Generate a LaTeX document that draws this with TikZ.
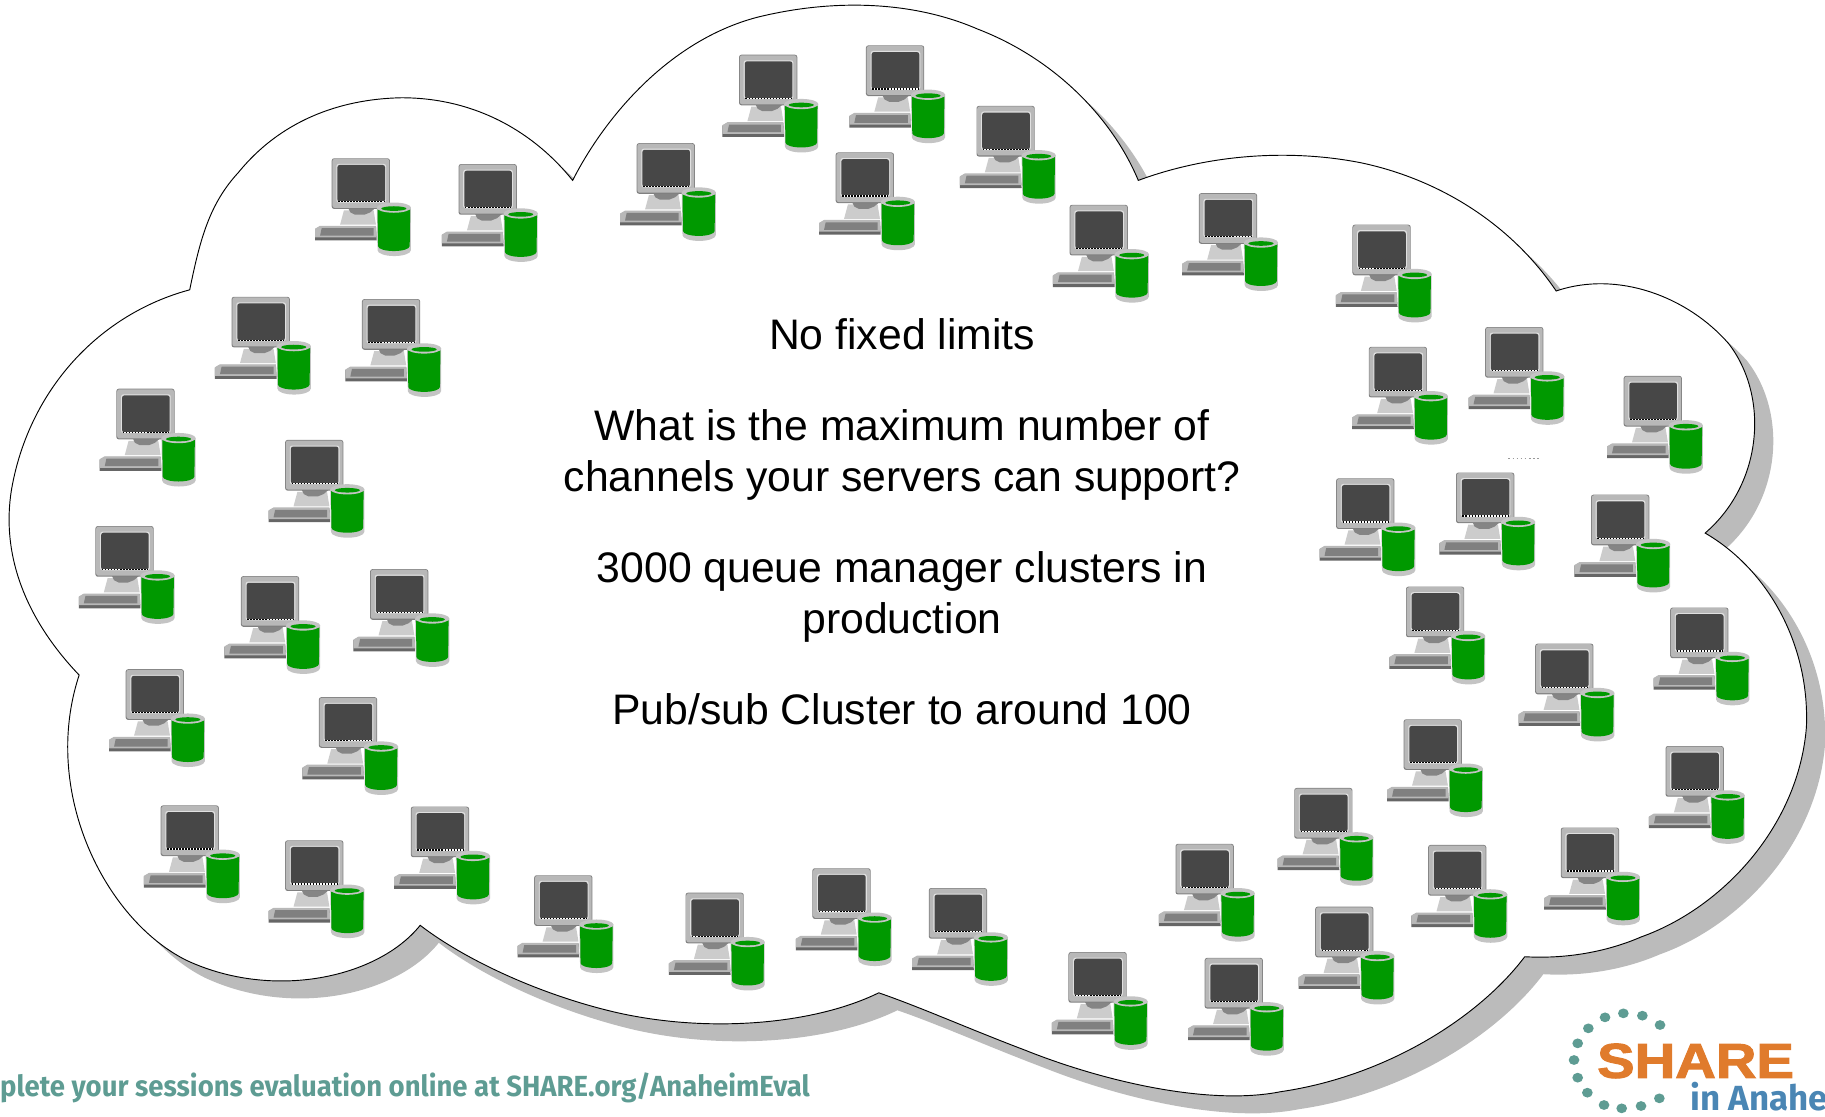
\documentclass[tikz,border=0pt]{standalone}
\usepackage{fontspec}
\setmainfont{Liberation Sans}
\newfontfamily\sharefont[FakeBold=2]{Liberation Sans Bold}
\newfontfamily\footfont{Fira Sans}[BoldFont=* Bold]
\usetikzlibrary{calc}
\definecolor{cloudshadow}{HTML}{BBBBBB}
\definecolor{pcgreen}{HTML}{009900}
\definecolor{rimgray}{HTML}{C4C4C4}
\definecolor{teal}{HTML}{5E9C93}
\definecolor{shareorange}{HTML}{E07B2C}
\definecolor{shareblue}{HTML}{4A86B4}
\tikzset{
  x=1pt,y=-1pt,
  bodytext/.style={anchor=base,font=\fontsize{36.7}{44}\selectfont,inner sep=0pt,text=black},
  pc/.pic={
    % keyboard
    \fill[black!60] (-14.3,61) -- (-10,58.5) -- (38,58.5) -- (38.7,70.6) -- (-14.3,70.6) -- cycle;
    \fill[black!28] (-14.3,60.5) -- (-10,58) -- (38,58) -- (38.7,68) -- (-14.3,68) -- cycle;
    \fill[black!50] (-8.6,60) -- (36,60) -- (36,66.5) -- (-10,66.5) -- cycle;
    % stand
    \fill[black!20] (10.5,44.7) -- (36,44.7) -- (38,57) -- (7.2,57) -- cycle;
    \fill[black!48] (14.3,43) -- (37.2,43) -- (33,46.5) -- (28,48.5) -- (20,48.5) -- (16,46.5) -- cycle;
    % monitor
    \fill[rounded corners=2pt,black!50] (0,0) rectangle (50,43.5);
    \fill[rounded corners=2pt,black!28] (0.6,0.5) rectangle (49.4,42.6);
    \fill[rounded corners=2pt,black!12] (4,4.8) rectangle (46.7,38);
    \fill[rounded corners=2pt,black!72] (4.9,5.7) rectangle (45.8,37.4);
    \draw[white,line width=1.1pt] (5.5,37.4) -- (45.3,37.4);
    \draw[black,line width=1.1pt,dash pattern=on 1.3pt off 1.3pt] (5.5,37.4) -- (45.3,37.4);
    % cylinder
    \fill[rimgray] (38.7,42.4) -- (39.4,79) arc[x radius=14.3,y radius=5,start angle=180,end angle=0] -- (68,42.4) -- cycle;
    \fill[pcgreen] (39.4,44) -- (39.8,75.5) arc[x radius=13.6,y radius=4.2,start angle=180,end angle=0] -- (67.4,44) -- cycle;
    \fill[rimgray] (53.4,42.4) ellipse[x radius=14.7,y radius=4.4];
    \fill[pcgreen] (53.4,43.2) ellipse[x radius=10.8,y radius=2];
  }
}
\begin{document}
\begin{tikzpicture}
\useasboundingbox (0,0) rectangle (1568,959.7);
\clip (0,0) rectangle (1568,959.7);
\def\cloudpath{
  (163,249)
  .. controls (172,205) and (180,175) .. (205,148)
  .. controls (240,105) and (290,85) .. (345,84)
  .. controls (410,84) and (460,115) .. (492,155)
  .. controls (520,100) and (575,35) .. (650,15)
  .. controls (710,0) and (780,-1) .. (840,25)
  .. controls (905,50) and (955,100) .. (978,155)
  .. controls (1040,132) and (1110,128) .. (1170,140)
  .. controls (1240,155) and (1300,195) .. (1337,250)
  .. controls (1390,232) and (1450,255) .. (1485,295)
  .. controls (1520,340) and (1515,415) .. (1465,458)
  .. controls (1520,490) and (1555,555) .. (1552,625)
  .. controls (1545,710) and (1480,780) .. (1410,805)
  .. controls (1380,818) and (1345,824) .. (1310,822)
  .. controls (1270,875) and (1190,925) .. (1100,938)
  .. controls (1040,950) and (950,930) .. (880,902)
  .. controls (835,885) and (790,865) .. (755,853)
  .. controls (700,880) and (610,888) .. (530,870)
  .. controls (465,855) and (400,825) .. (361,795)
  .. controls (325,840) and (235,860) .. (160,825)
  .. controls (90,790) and (35,680) .. (68,580)
  .. controls (25,535) and (0,480) .. (10,420)
  .. controls (25,335) and (85,270) .. (163,249)
  -- cycle
}
\fill[cloudshadow,shift={(16,15)}] \cloudpath;
\draw[black,fill=white,line width=0.8pt] \cloudpath;
\draw[black!40,line width=0.6pt,dash pattern=on 1.5pt off 2pt] (1296,394) -- (1322,394);

\foreach \px/\py [count=\i] in {285/136,394/141,547/123,635/47,744/39,718/131,839/91,919/176,1030/166,1162/193,1276/281,1176/298,1395/323,1148/411,1251/406,1367/425,1208/504,1435/522,1319/553,1206/618,1431/641,1112/677,1010/725,1341/711,1227/726,1130/779,1035/823,918/818,798/763,698/746,589/767,459/752,353/693,245/722,138/692,108/575,274/599,318/489,207/495,82/452,245/378,100/334,199/255,311/257}
  \pic (c\i) at (\px,\py) {pc};

\node[bodytext] (t1) at (775,300.5) {No fixed limits};
\node[bodytext] (t2) at (775,378.5) {What is the maximum number of};
\node[bodytext] (t3) at (775,422.5) {channels your servers can support?};
\node[bodytext] (t4) at (775,500.5) {3000 queue manager clusters in};
\node[bodytext] (t5) at (775,544.5) {production};
\node[bodytext] (t6) at (775,622.5) {Pub/sub Cluster to around 100};

\node[anchor=base east,inner sep=0pt,text=teal,font=\footfont\bfseries\fontsize{25}{30}\selectfont,xscale=0.946] (foot) at (696,942) {plete your sessions evaluation online at SHARE.org/AnaheimEval};

\foreach \zx/\zy in {315/112,370/100,427/107,480/135,265/145,233/190,222/240,233/293,262/338,312/375,365/385,423/378,478/355}
  \fill[teal] ({(1500+\zx/3)/1.1639},{(980+\zy/3)/1.1639}) ellipse[x radius=4.6,y radius=4.2];
\node[anchor=base west,inner sep=0pt,text=shareorange,font=\sharefont\fontsize{42}{42}\selectfont,xscale=1.15] (share) at (1372,926) {SHARE};
\node[anchor=base west,inner sep=0pt,text=shareblue,font=\footfont\bfseries\fontsize{30}{30}\selectfont] (anaheim) at (1452,954) {in Anahe};
\end{tikzpicture}
\end{document}
